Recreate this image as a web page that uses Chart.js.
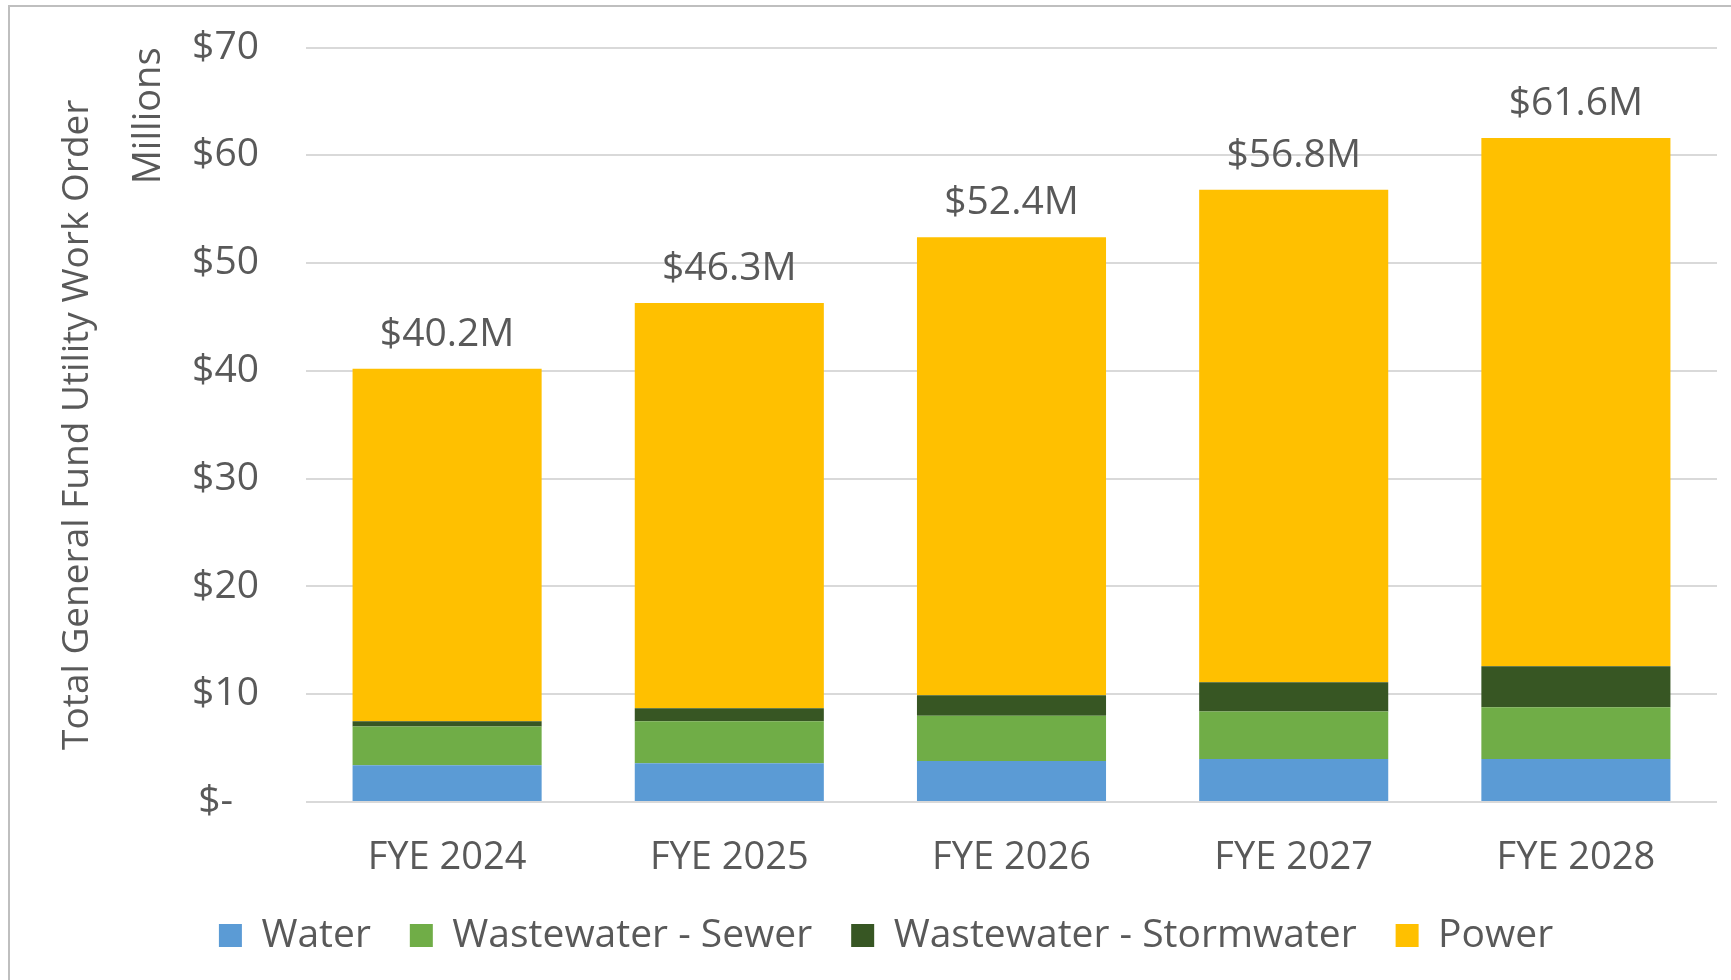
<!DOCTYPE html>
<html>
<head>
<meta charset="utf-8">
<script src="https://cdn.jsdelivr.net/npm/chart.js@4.4.1/dist/chart.umd.min.js"></script>
<style>
  html, body { margin: 0; padding: 0; background: #fff; }
</style>
</head>
<body>
<canvas id="workOrders" width="1731" height="980"></canvas>
<script>
/* Värden (miljoner dollar) */
const years = ['FYE 2024', 'FYE 2025', 'FYE 2026', 'FYE 2027', 'FYE 2028'];
const water = [3.4, 3.6, 3.8, 4.0, 4.0];
const sewer = [3.6, 3.9, 4.2, 4.4, 4.8];
const stormwater = [0.5, 1.2, 1.9, 2.7, 3.8];
const power = [32.7, 37.6, 42.5, 45.7, 49.0];
const totalLabels = ['$40.2M', '$46.3M', '$52.4M', '$56.8M', '$61.6M'];
const yTickLabels = ['$-\u2002\u2009', '$10', '$20', '$30', '$40', '$50', '$60', '$70'];

const textColor = '#595959';
const fontFamily = '"Open Sans", sans-serif';

/* Ram runt hela diagrammet, som i Excel */
const frame = {
  id: 'frame',
  beforeDraw(chart) {
    const ctx = chart.ctx;
    ctx.save();
    ctx.fillStyle = '#fff';
    ctx.fillRect(0, 0, chart.width, chart.height);
    ctx.strokeStyle = '#bfbfbf';
    ctx.lineWidth = 2;
    ctx.strokeRect(9, 6, chart.width + 20, chart.height + 20);
    ctx.restore();
  }
};

/* "Millions" bredvid y-axeln och summan ovanför varje stapel */
const extraText = {
  id: 'extraText',
  afterDatasetsDraw(chart) {
    const ctx = chart.ctx;
    const area = chart.chartArea;
    ctx.save();
    ctx.fillStyle = textColor;
    ctx.font = '38px ' + fontFamily;

    ctx.save();
    ctx.translate(area.left - 157, area.top);
    ctx.rotate(-Math.PI / 2);
    ctx.textAlign = 'right';
    ctx.textBaseline = 'middle';
    ctx.fillText('Millions', 0, 0);
    ctx.restore();

    ctx.font = '39px ' + fontFamily;
    const top = chart.getDatasetMeta(chart.data.datasets.length - 1);
    ctx.textAlign = 'center';
    ctx.textBaseline = 'middle';
    top.data.forEach((bar, i) => {
      ctx.fillText(totalLabels[i], bar.x, bar.y - 34);
    });
    ctx.restore();
  }
};

const datasets = [
  { label: 'Water', data: water, backgroundColor: '#5b9bd5' },
  { label: 'Wastewater - Sewer', data: sewer, backgroundColor: '#70ad47' },
  { label: 'Wastewater - Stormwater', data: stormwater, backgroundColor: '#375623' },
  { label: 'Power', data: power, backgroundColor: '#ffc000' }
].map((ds) => ({ ...ds, barPercentage: 0.67, categoryPercentage: 1 }));

new Chart(document.getElementById('workOrders'), {
  type: 'bar',
  data: { labels: years, datasets },
  options: {
    responsive: false,
    animation: false,
    devicePixelRatio: 1,
    layout: { padding: { left: 55, right: 14, top: 47.5, bottom: 15 } },
    plugins: {
      tooltip: { enabled: false },
      legend: {
        position: 'bottom',
        labels: {
          color: textColor,
          font: { size: 39, family: fontFamily },
          boxWidth: 23,
          boxHeight: 23,
          padding: 39
        }
      }
    },
    scales: {
      x: {
        stacked: true,
        afterFit(scale) { scale.height = 75; },
        grid: { display: false, drawTicks: false },
        border: { display: false },
        ticks: {
          color: textColor,
          font: { size: 38, family: fontFamily, lineHeight: 1 },
          padding: 37
        }
      },
      y: {
        stacked: true,
        min: 0,
        max: 70,
        afterFit(scale) {
          scale.width = 251;
          scale.paddingTop = 0;
          scale.paddingBottom = 0;
        },
        grid: { color: '#d9d9d9', lineWidth: 2, drawTicks: false },
        border: { display: false },
        ticks: {
          stepSize: 10,
          padding: 47,
          color: textColor,
          font: { size: 39, family: fontFamily },
          callback: (value) => yTickLabels[value / 10]
        },
        title: {
          display: true,
          text: 'Total General Fund Utility Work Order',
          color: textColor,
          font: { size: 37, family: fontFamily },
          padding: { top: 0, bottom: 0 }
        }
      }
    }
  },
  plugins: [frame, extraText]
});
</script>
</body>
</html>
